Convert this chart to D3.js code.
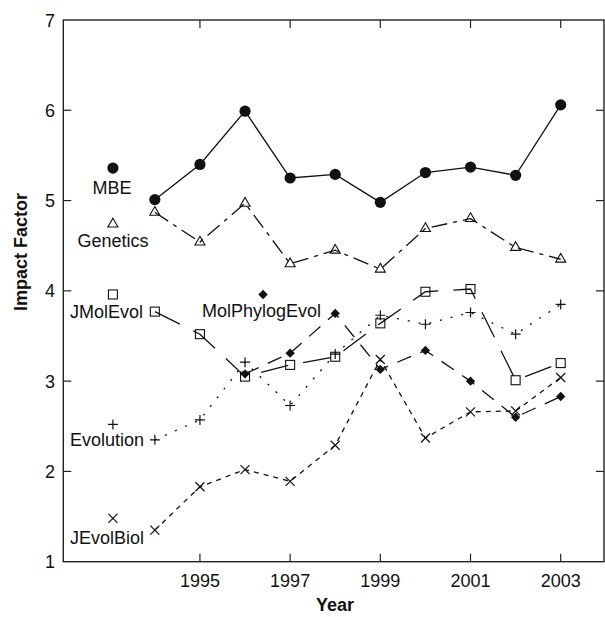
<!DOCTYPE html>
<html>
<head>
<meta charset="utf-8">
<script src="https://cdn.jsdelivr.net/npm/d3@7"></script>
<style>
  body { margin: 0; background: #fff; }
  text { font-family: "Liberation Sans", Arial, sans-serif; fill: #111; }
</style>
</head>
<body>
<div id="chart"></div>
<script>
// données
var years = [1994, 1995, 1996, 1997, 1998, 1999, 2000, 2001, 2002, 2003];
var yearsMPE = [1996, 1997, 1998, 1999, 2000, 2001, 2002, 2003];
var mbe = [5.01, 5.40, 5.99, 5.25, 5.29, 4.98, 5.31, 5.37, 5.28, 6.06];
var genetics = [4.87, 4.54, 4.97, 4.30, 4.45, 4.24, 4.69, 4.80, 4.48, 4.35];
var jMolEvol = [3.77, 3.52, 3.05, 3.18, 3.27, 3.64, 3.99, 4.02, 3.01, 3.20];
var molPhylogEvol = [3.08, 3.31, 3.75, 3.13, 3.34, 3.00, 2.60, 2.83];
var evolution = [2.35, 2.57, 3.21, 2.73, 3.30, 3.73, 3.63, 3.76, 3.52, 3.85];
var jEvolBiol = [1.35, 1.83, 2.02, 1.89, 2.29, 3.24, 2.37, 2.66, 2.67, 3.04];
var xTicks = [1995, 1997, 1999, 2001, 2003];
var yTicks = [1, 2, 3, 4, 5, 6, 7];

// légende : nom, position du symbole (année, valeur)
var legendNames = ["MBE", "Genetics", "JMolEvol", "MolPhylogEvol", "Evolution", "JEvolBiol"];
var legendYear = [1993.07, 1993.07, 1993.07, 1996.4, 1993.07, 1993.07];
var legendValue = [5.36, 4.74, 3.96, 3.96, 2.52, 1.48];

var width = 605, height = 617;
var svg = d3.select("#chart").append("svg")
  .attr("width", width).attr("height", height);

var x = d3.scaleLinear().domain([1991.97, 2003.96]).range([63.3, 604]);
var y = d3.scaleLinear().domain([1, 7]).range([561.7, 20]);

// styles de chaque série
var series = [
  { name: "MBE", xs: years, vs: mbe, dash: null, sym: "circle" },
  { name: "Genetics", xs: years, vs: genetics, dash: "16,6,4,6", sym: "triangle" },
  { name: "JMolEvol", xs: years, vs: jMolEvol, dash: "28,15", sym: "square" },
  { name: "MolPhylogEvol", xs: yearsMPE, vs: molPhylogEvol, dash: "15,10", sym: "diamond" },
  { name: "Evolution", xs: years, vs: evolution, dash: "2,9", sym: "plus" },
  { name: "JEvolBiol", xs: years, vs: jEvolBiol, dash: "5,5", sym: "x" }
];

var line = d3.line().x(d => x(d[0])).y(d => y(d[1]));

series.forEach(s => {
  var pts = s.xs.map((yr, i) => [yr, s.vs[i]]);
  svg.append("path")
    .attr("d", line(pts))
    .attr("fill", "none")
    .attr("stroke", "#111")
    .attr("stroke-width", 1.3)
    .attr("stroke-dasharray", s.dash);
  pts.forEach(p => drawSymbol(s.sym, x(p[0]), y(p[1])));
});

// dessine un symbole
function drawSymbol(sym, cx, cy) {
  var g = svg.append("g").attr("transform", "translate(" + cx + "," + cy + ")");
  if (sym === "circle") {
    g.append("circle").attr("r", 5.6).attr("fill", "#111");
  } else if (sym === "triangle") {
    g.append("path").attr("d", d3.symbol().type(d3.symbolTriangle).size(44)())
      .attr("fill", "none").attr("stroke", "#111").attr("stroke-width", 1.1);
  } else if (sym === "square") {
    g.append("rect").attr("x", -4.5).attr("y", -4.5).attr("width", 9).attr("height", 9)
      .attr("fill", "none").attr("stroke", "#111").attr("stroke-width", 1.1);
  } else if (sym === "diamond") {
    g.append("rect").attr("x", -3.3).attr("y", -3.3).attr("width", 6.6).attr("height", 6.6)
      .attr("transform", "rotate(45)").attr("fill", "#111");
  } else if (sym === "plus") {
    g.append("path").attr("d", "M-5,0H5M0,-5V5")
      .attr("stroke", "#111").attr("stroke-width", 1.2);
  } else if (sym === "x") {
    g.append("path").attr("d", "M-4.5,-4.5L4.5,4.5M-4.5,4.5L4.5,-4.5")
      .attr("stroke", "#111").attr("stroke-width", 1.2);
  }
}

// légende
var legendSym = ["circle", "triangle", "square", "diamond", "plus", "x"];
var labelPos = [
  { dx: -1, dy: 26, anchor: "middle" },
  { dx: 0, dy: 23, anchor: "middle" },
  { dx: -43, dy: 24, anchor: "start" },
  { dx: -61, dy: 23, anchor: "start" },
  { dx: -43, dy: 22, anchor: "start" },
  { dx: -43, dy: 26, anchor: "start" }
];
legendNames.forEach((n, i) => {
  var cx = x(legendYear[i]), cy = y(legendValue[i]);
  drawSymbol(legendSym[i], cx, cy);
  svg.append("text")
    .attr("x", cx + labelPos[i].dx)
    .attr("y", cy + labelPos[i].dy)
    .attr("text-anchor", labelPos[i].anchor)
    .attr("font-size", 18)
    .text(n);
});

// cadre + graduations
var x0 = x.range()[0], x1 = x.range()[1], y0 = y.range()[0], y1 = y.range()[1];
svg.append("rect")
  .attr("x", x0).attr("y", y1).attr("width", x1 - x0).attr("height", y0 - y1)
  .attr("fill", "none").attr("stroke", "#222").attr("stroke-width", 1.4);

var tickLen = 8;
xTicks.forEach(t => {
  svg.append("line").attr("x1", x(t)).attr("x2", x(t)).attr("y1", y0).attr("y2", y0 - tickLen)
    .attr("stroke", "#222").attr("stroke-width", 1.2);
  svg.append("line").attr("x1", x(t)).attr("x2", x(t)).attr("y1", y1).attr("y2", y1 + tickLen)
    .attr("stroke", "#222").attr("stroke-width", 1.2);
  svg.append("text").attr("x", x(t)).attr("y", 587).attr("text-anchor", "middle")
    .attr("font-size", 18).text(t);
});
yTicks.forEach(t => {
  if (t > 1 && t < 7) {
    svg.append("line").attr("x1", x0).attr("x2", x0 + tickLen).attr("y1", y(t)).attr("y2", y(t))
      .attr("stroke", "#222").attr("stroke-width", 1.2);
    svg.append("line").attr("x1", x1).attr("x2", x1 - tickLen).attr("y1", y(t)).attr("y2", y(t))
      .attr("stroke", "#222").attr("stroke-width", 1.2);
  }
  svg.append("text").attr("x", 55).attr("y", y(t) + 6.5).attr("text-anchor", "end")
    .attr("font-size", 18).text(t);
});

// titres des axes
svg.append("text").attr("x", 335).attr("y", 611).attr("text-anchor", "middle")
  .attr("font-size", 18).attr("font-weight", "bold").text("Year");
svg.append("text").attr("transform", "translate(27,252) rotate(-90)")
  .attr("text-anchor", "middle").attr("font-size", 18).attr("font-weight", "bold")
  .text("Impact Factor");
</script>
</body>
</html>
